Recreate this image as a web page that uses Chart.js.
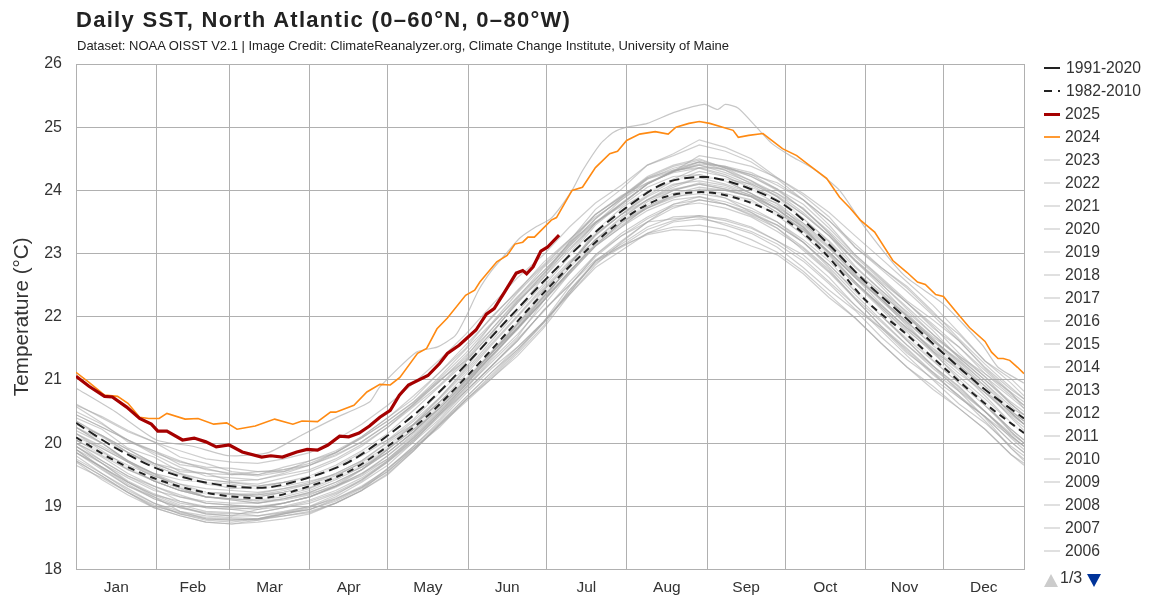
<!DOCTYPE html>
<html>
<head>
<meta charset="utf-8">
<title>Daily SST, North Atlantic</title>
<script src="https://cdn.jsdelivr.net/npm/chart.js@4"></script>
<style>
  html, body { margin: 0; padding: 0; background: #fff; }
  #wrap { position: relative; width: 1150px; height: 610px; font-family: "Liberation Sans", Arial, sans-serif; color: #333; overflow: hidden; }
  canvas { position: absolute; left: 0; top: 0; }
  #title { position: absolute; left: 76px; top: 7px; font-size: 22px; font-weight: bold; letter-spacing: 1.29px; color: #222; white-space: nowrap; }
  #sub { position: absolute; left: 77px; top: 38px; font-size: 13px; color: #222; white-space: nowrap; }
  .row { position: absolute; left: 1044px; height: 20px; line-height: 20px; font-size: 15.7px; white-space: nowrap; }
  .row i { position: absolute; left: 0; top: 9px; width: 16px; height: 2px; }
  .row span { position: absolute; left: 21px; top: 0; }
  #up { position: absolute; left: 1044px; top: 574px; border-left: 7px solid transparent; border-right: 7px solid transparent; border-bottom: 13px solid #ccc; }
  #down { position: absolute; left: 1087px; top: 574px; border-left: 7px solid transparent; border-right: 7px solid transparent; border-top: 13px solid #003399; }
  #page { position: absolute; left: 1060px; top: 569px; font-size: 16px; }
</style>
</head>
<body>
<div id="wrap">
  <canvas id="chart" width="1150" height="610"></canvas>
  <div id="title">Daily SST, North Atlantic (0–60°N, 0–80°W)</div>
  <div id="sub">Dataset: NOAA OISST V2.1 | Image Credit: ClimateReanalyzer.org, Climate Change Institute, University of Maine</div>
  <div id="legend"></div>
  <div id="up"></div><div id="page">1/3</div><div id="down"></div>
</div>
<script>
const months = ['Jan','Feb','Mar','Apr','May','Jun','Jul','Aug','Sep','Oct','Nov','Dec'];
const monthStarts = [0,31,59,90,120,151,181,212,243,273,304,334,365];
const monthMids = [15.5,45,74.5,105,135.5,166,196.5,227.5,258,288.5,319,349.5];
const legendLabels = ['1991-2020','1982-2010','2025','2024','2023','2022','2021','2020','2019','2018','2017','2016','2015','2014','2013','2012','2011','2010','2009','2008','2007','2006'];

// day of year for the two climatologies
const climDays = [0,15,31,45,59,74,90,105,120,135,151,166,181,196,212,227,243,258,273,288,304,319,334,349,365];
const clim9120 = [20.32,19.93,19.60,19.42,19.32,19.30,19.46,19.70,20.12,20.62,21.28,21.95,22.60,23.20,23.73,24.12,24.21,24.05,23.76,23.22,22.55,22.00,21.42,20.88,20.39];
const clim8210 = [20.09,19.72,19.43,19.26,19.16,19.14,19.32,19.55,19.95,20.42,21.08,21.75,22.42,23.03,23.58,23.90,23.97,23.83,23.54,23.02,22.26,21.75,21.20,20.66,20.16];

const days2025 = [0,5,11,14,19.5,24.5,29,31.5,35,41,45.5,50,54,59,64,71.5,75,79.5,85,89,93,97,101.5,105,109,113,117,121,124.5,128,135.5,140,143,147.5,154,158,161,165,169.5,172,173.5,176,179,181.5,186];
const y2025 = [21.06,20.90,20.74,20.73,20.57,20.39,20.30,20.19,20.19,20.05,20.08,20.02,19.94,19.97,19.86,19.78,19.80,19.78,19.86,19.90,19.89,19.97,20.11,20.10,20.16,20.27,20.41,20.52,20.76,20.92,21.07,21.26,21.42,21.55,21.79,22.04,22.13,22.39,22.69,22.73,22.68,22.79,23.04,23.10,23.29];

const days2024 = [0,5,11,16,20,24.5,28,32,35,42,47,53,58,62,69,76.5,83.5,87,93,98,100,107,112,117,121,124.7,131.5,135,139,143,150,153.5,155.5,162,166,169,172,174,176.5,183,185,191,195,200,205.5,208.5,212,217,223,228,231,236,240,244,249,253,255,259,264.5,267,272,277.5,282.5,289,294,298,302,307.5,314.5,320,324,327,331,334,339,344,350,352.5,355,357,359.5,362.5,365];
const y2024 = [21.12,20.96,20.76,20.74,20.63,20.41,20.39,20.39,20.47,20.38,20.39,20.30,20.32,20.22,20.27,20.38,20.30,20.35,20.34,20.49,20.49,20.60,20.81,20.93,20.92,21.04,21.42,21.50,21.81,21.98,22.34,22.42,22.55,22.87,22.97,23.15,23.18,23.26,23.26,23.53,23.57,24.00,24.05,24.36,24.58,24.62,24.79,24.89,24.93,24.89,25.00,25.06,25.09,25.06,25.00,24.95,24.84,24.87,24.90,24.82,24.66,24.55,24.39,24.19,23.89,23.72,23.53,23.34,22.89,22.70,22.55,22.51,22.35,22.32,22.07,21.83,21.61,21.44,21.34,21.34,21.31,21.20,21.10];

const days2023 = [0,15,31,45,59,74,87,100,113,117,131,139,146,150,155,160,166,171,177,183,191,195,202,207,212,220,230,242,247,250,255,262,268,275,284,294,304,319,334,349,355,365];
const y2023 = [20.87,20.50,20.05,19.95,19.80,19.85,20.13,20.40,20.65,20.89,21.44,21.52,21.70,21.99,22.42,22.73,23.02,23.25,23.42,23.56,24.00,24.31,24.74,24.92,25.00,25.06,25.23,25.36,25.28,25.36,25.30,25.00,24.74,24.55,24.34,24.00,23.40,22.65,22.20,21.55,21.20,20.95];

// grey years, read every ten days
const days = [0,10,20,30,40,50,60,70,80,90,100,110,120,130,140,150,160,170,180,190,200,210,220,230,240,250,260,270,280,290,300,310,320,330,340,350,360,365];
const y2022 = [20.58,20.32,20.02,19.88,19.66,19.60,19.50,19.55,19.55,19.72,19.88,20.10,20.40,20.70,21.12,21.50,22.00,22.40,22.86,23.22,23.62,23.90,24.20,24.32,24.45,24.36,24.25,24.02,23.78,23.40,22.98,22.60,22.22,21.82,21.52,21.10,20.80,20.65];
const y2021 = [20.40,20.22,19.92,19.78,19.55,19.52,19.40,19.42,19.50,19.58,19.75,19.98,20.25,20.62,20.98,21.35,21.88,22.30,22.78,23.15,23.55,23.88,24.18,24.30,24.55,24.48,24.38,24.20,23.92,23.58,23.10,22.78,22.45,22.05,21.72,21.30,21.02,20.82];
const y2020 = [20.62,20.40,20.18,20.02,19.78,19.68,19.55,19.50,19.62,19.72,19.85,20.08,20.35,20.65,21.05,21.48,21.90,22.38,22.80,23.20,23.70,24.02,24.40,24.55,24.72,24.62,24.45,24.18,23.85,23.45,22.98,22.62,22.25,21.95,21.62,21.18,20.80,20.55];
const y2019 = [20.35,20.10,19.85,19.65,19.48,19.38,19.28,19.32,19.38,19.45,19.62,19.85,20.05,20.38,20.80,21.20,21.68,22.12,22.62,23.12,23.55,23.88,24.20,24.38,24.48,24.36,24.25,24.12,23.85,23.52,23.15,22.78,22.48,22.08,21.65,21.25,20.88,20.70];
const y2018 = [20.15,19.95,19.72,19.52,19.42,19.38,19.35,19.28,19.32,19.40,19.50,19.68,19.95,20.22,20.55,20.95,21.38,21.82,22.25,22.72,23.12,23.50,23.75,23.92,24.02,24.00,23.90,23.72,23.48,23.15,22.72,22.35,22.00,21.62,21.22,20.85,20.50,20.35];
const y2017 = [20.45,20.25,20.05,19.85,19.70,19.62,19.60,19.55,19.58,19.65,19.82,20.02,20.30,20.62,21.02,21.42,21.88,22.32,22.72,23.12,23.50,23.78,24.10,24.30,24.40,24.28,24.12,23.95,23.72,23.32,22.90,22.52,22.15,21.78,21.35,21.00,20.62,20.45];
const y2016 = [20.50,20.30,20.05,19.82,19.62,19.48,19.45,19.42,19.52,19.65,19.80,20.02,20.30,20.60,20.98,21.38,21.80,22.25,22.62,23.05,23.48,23.78,24.10,24.32,24.36,24.25,24.08,23.85,23.55,23.20,22.78,22.42,22.08,21.72,21.35,21.00,20.65,20.50];
const y2015 = [20.20,20.00,19.72,19.50,19.30,19.22,19.15,19.18,19.22,19.30,19.48,19.70,19.95,20.30,20.70,21.12,21.58,22.02,22.48,22.95,23.45,23.78,24.10,24.30,24.42,24.38,24.28,24.08,23.85,23.52,23.10,22.75,22.40,22.02,21.62,21.20,20.85,20.70];
const y2014 = [20.05,19.82,19.60,19.40,19.25,19.15,19.12,19.10,19.18,19.28,19.45,19.62,19.85,20.18,20.58,21.00,21.45,21.90,22.42,22.85,23.28,23.62,23.95,24.18,24.36,24.35,24.22,24.02,23.70,23.35,22.95,22.58,22.22,21.85,21.42,21.05,20.72,20.55];
const y2013 = [20.30,20.12,19.90,19.68,19.52,19.42,19.38,19.32,19.38,19.45,19.60,19.80,20.05,20.30,20.62,21.00,21.42,21.88,22.38,22.80,23.18,23.52,23.78,24.00,24.12,24.05,23.92,23.80,23.48,23.12,22.70,22.32,21.98,21.62,21.30,20.95,20.58,20.40];
const y2012 = [20.45,20.25,20.05,19.88,19.72,19.58,19.52,19.48,19.55,19.65,19.85,20.08,20.35,20.65,21.00,21.30,21.75,22.22,22.68,23.18,23.50,23.75,24.05,24.22,24.25,24.15,23.95,23.75,23.45,23.10,22.65,22.25,21.88,21.45,21.10,20.80,20.45,20.30];
const y2011 = [20.10,19.85,19.62,19.40,19.25,19.20,19.18,19.20,19.28,19.35,19.48,19.68,19.95,20.28,20.65,21.02,21.42,21.82,22.32,22.78,23.22,23.58,23.85,24.08,24.20,24.10,23.95,23.70,23.40,23.00,22.55,22.18,21.82,21.50,21.18,20.80,20.55,20.45];
const y2010 = [20.60,20.42,20.20,20.02,19.88,19.75,19.70,19.68,19.75,19.85,20.05,20.30,20.60,20.95,21.32,21.72,22.18,22.62,22.98,23.42,23.80,24.08,24.40,24.58,24.80,24.68,24.50,24.20,23.95,23.65,23.28,22.92,22.55,22.18,21.75,21.30,20.95,20.75];
const y2009 = [19.95,19.72,19.48,19.32,19.18,19.05,19.02,19.00,19.05,19.15,19.32,19.52,19.75,20.08,20.45,20.88,21.28,21.68,22.25,22.85,23.32,23.62,23.85,24.05,24.20,24.18,24.10,23.92,23.62,23.28,22.80,22.42,22.02,21.68,21.38,21.10,20.75,20.60];
const y2008 = [20.10,19.92,19.70,19.52,19.30,19.15,19.10,19.05,19.12,19.20,19.32,19.48,19.75,20.10,20.48,20.88,21.35,21.82,22.25,22.72,23.15,23.48,23.72,23.92,24.00,23.92,23.80,23.62,23.30,22.92,22.52,22.12,21.70,21.32,20.95,20.60,20.22,20.05];
const y2007 = [20.25,20.00,19.72,19.52,19.35,19.22,19.18,19.15,19.22,19.30,19.45,19.65,19.95,20.28,20.65,21.08,21.55,22.00,22.45,22.88,23.20,23.50,23.72,23.88,24.00,23.95,23.82,23.62,23.38,23.02,22.62,22.20,21.80,21.42,21.05,20.70,20.32,20.15];
const y2006 = [20.30,20.12,19.90,19.68,19.52,19.35,19.30,19.28,19.38,19.48,19.65,19.88,20.15,20.52,20.90,21.28,21.75,22.22,22.65,23.18,23.62,23.92,24.12,24.28,24.35,24.22,24.02,23.78,23.42,22.98,22.55,22.15,21.78,21.45,21.18,20.85,20.48,20.30];
const y2005 = [20.35,20.12,19.85,19.62,19.50,19.42,19.38,19.35,19.45,19.55,19.72,19.95,20.25,20.58,20.92,21.32,21.80,22.28,22.72,23.15,23.62,23.90,24.22,24.40,24.50,24.35,24.15,23.95,23.65,23.28,22.88,22.52,22.12,21.72,21.38,21.05,20.62,20.45];
const y2004 = [20.15,19.88,19.62,19.40,19.25,19.15,19.12,19.10,19.15,19.25,19.42,19.62,19.90,20.22,20.60,21.02,21.45,21.92,22.42,22.82,23.35,23.72,23.98,24.15,24.30,24.22,24.05,23.85,23.55,23.18,22.72,22.38,22.00,21.65,21.28,20.90,20.52,20.35];
const y2003 = [20.25,20.00,19.70,19.45,19.28,19.15,19.10,19.05,19.10,19.18,19.35,19.58,19.90,20.30,20.72,21.18,21.72,22.25,22.68,23.08,23.48,23.80,24.10,24.30,24.40,24.32,24.15,23.90,23.62,23.28,22.90,22.55,22.22,21.88,21.52,21.15,20.78,20.60];
const y2002 = [20.05,19.85,19.65,19.48,19.35,19.28,19.25,19.22,19.28,19.38,19.52,19.72,20.00,20.30,20.65,21.02,21.42,21.85,22.32,22.78,23.18,23.50,23.82,24.00,24.10,24.02,23.90,23.70,23.42,23.08,22.68,22.28,21.90,21.55,21.22,20.90,20.48,20.30];
const y2001 = [19.95,19.68,19.40,19.20,19.05,18.98,18.95,18.98,19.05,19.15,19.32,19.52,19.80,20.15,20.52,20.92,21.42,21.88,22.32,22.78,23.22,23.55,23.85,24.02,24.10,24.02,23.90,23.65,23.35,23.02,22.62,22.28,21.92,21.55,21.20,20.80,20.42,20.25];
const y2000 = [19.90,19.62,19.35,19.12,18.98,18.90,18.88,18.90,18.98,19.08,19.22,19.42,19.70,20.05,20.45,20.82,21.22,21.65,22.08,22.55,22.98,23.32,23.58,23.78,23.85,23.78,23.65,23.45,23.18,22.82,22.40,22.02,21.65,21.30,20.95,20.60,20.22,20.05];
const y1999 = [20.05,19.85,19.58,19.40,19.25,19.15,19.12,19.08,19.12,19.22,19.38,19.58,19.85,20.18,20.55,20.95,21.45,21.92,22.38,22.82,23.30,23.62,23.92,24.15,24.25,24.15,23.95,23.70,23.35,22.95,22.55,22.15,21.75,21.35,21.00,20.60,20.18,20.00];
const y1998 = [20.25,20.05,19.85,19.68,19.58,19.52,19.50,19.50,19.58,19.68,19.85,20.10,20.40,20.75,21.12,21.55,21.98,22.42,22.82,23.22,23.58,23.85,24.12,24.30,24.45,24.38,24.22,24.00,23.70,23.32,22.88,22.48,22.05,21.65,21.25,20.85,20.40,20.20];
const y1997 = [19.75,19.52,19.28,19.05,18.92,18.85,18.82,18.80,18.88,18.98,19.15,19.38,19.65,20.02,20.45,20.85,21.32,21.72,22.18,22.68,23.12,23.42,23.75,23.95,24.05,24.00,23.90,23.65,23.38,23.02,22.65,22.35,22.02,21.62,21.32,20.95,20.52,20.35];
const y1996 = [19.85,19.58,19.32,19.15,18.92,18.80,18.78,18.80,18.85,18.92,19.05,19.25,19.50,19.88,20.28,20.65,21.02,21.38,21.82,22.35,22.82,23.18,23.50,23.78,23.90,23.82,23.68,23.50,23.22,22.88,22.45,22.02,21.62,21.22,20.82,20.50,20.08,19.90];
const y1995 = [20.00,19.80,19.58,19.42,19.30,19.22,19.20,19.18,19.25,19.35,19.52,19.72,20.02,20.35,20.72,21.15,21.62,22.08,22.52,23.00,23.48,23.85,24.18,24.35,24.45,24.32,24.10,23.90,23.55,23.12,22.68,22.28,21.85,21.45,21.00,20.65,20.18,20.00];
const y1994 = [19.70,19.42,19.18,18.98,18.85,18.75,18.72,18.75,18.80,18.88,19.05,19.25,19.52,19.88,20.30,20.68,21.08,21.48,21.92,22.38,22.88,23.20,23.50,23.72,23.85,23.78,23.62,23.45,23.18,22.82,22.42,22.02,21.62,21.22,20.90,20.50,20.15,20.00];
const y1993 = [19.72,19.48,19.22,18.98,18.85,18.75,18.72,18.78,18.88,18.95,19.12,19.32,19.58,19.95,20.32,20.72,21.12,21.52,21.92,22.35,22.78,23.05,23.32,23.50,23.55,23.48,23.35,23.15,22.88,22.52,22.12,21.82,21.48,21.10,20.75,20.35,19.92,19.75];
const y1992 = [19.95,19.68,19.38,19.15,19.00,18.88,18.85,18.85,18.90,18.95,19.08,19.28,19.55,19.90,20.28,20.68,21.02,21.42,21.85,22.42,22.85,23.10,23.32,23.42,23.45,23.38,23.22,23.02,22.72,22.35,21.98,21.58,21.20,20.85,20.55,20.22,19.82,19.68];
const y1991 = [20.15,19.92,19.70,19.48,19.32,19.22,19.20,19.15,19.22,19.30,19.45,19.65,19.92,20.25,20.60,20.98,21.38,21.80,22.28,22.72,23.15,23.45,23.72,23.90,23.95,23.88,23.72,23.50,23.18,22.78,22.35,21.95,21.55,21.18,20.85,20.50,20.12,19.95];
const y1990 = [19.90,19.68,19.45,19.25,19.15,19.08,19.05,19.05,19.12,19.22,19.38,19.58,19.85,20.18,20.55,20.98,21.45,21.90,22.35,22.82,23.30,23.62,23.90,24.10,24.15,24.08,23.92,23.70,23.42,23.02,22.62,22.28,21.92,21.58,21.20,20.85,20.48,20.30];
const y1989 = [19.85,19.62,19.38,19.18,19.08,19.00,18.98,18.95,19.00,19.10,19.25,19.45,19.72,20.05,20.42,20.82,21.22,21.62,22.10,22.50,22.95,23.28,23.55,23.75,23.80,23.72,23.58,23.35,23.08,22.72,22.30,21.92,21.55,21.22,20.88,20.50,20.12,19.95];
const y1988 = [20.00,19.78,19.52,19.32,19.15,19.05,19.02,18.98,19.05,19.15,19.30,19.50,19.80,20.12,20.50,20.92,21.38,21.80,22.25,22.68,23.12,23.42,23.68,23.85,23.90,23.78,23.60,23.40,23.05,22.70,22.28,21.85,21.45,21.08,20.75,20.42,20.02,19.85];
const y1987 = [19.65,19.45,19.22,19.02,18.88,18.80,18.78,18.80,18.90,19.00,19.18,19.42,19.72,20.08,20.48,20.92,21.38,21.82,22.30,22.78,23.22,23.52,23.78,23.95,24.00,23.95,23.85,23.60,23.30,22.92,22.52,22.18,21.82,21.48,21.15,20.75,20.32,20.15];
const y1986 = [19.72,19.48,19.22,19.00,18.90,18.82,18.80,18.78,18.85,18.90,19.05,19.25,19.60,19.92,20.25,20.68,21.05,21.45,21.90,22.42,22.88,23.12,23.38,23.52,23.60,23.52,23.40,23.20,22.98,22.62,22.18,21.82,21.42,21.12,20.82,20.40,19.92,19.72];
const y1985 = [19.80,19.52,19.25,19.05,18.88,18.78,18.75,18.80,18.88,18.95,19.10,19.30,19.55,19.92,20.30,20.72,21.12,21.48,21.90,22.38,22.88,23.12,23.30,23.38,23.36,23.28,23.12,22.98,22.68,22.30,21.98,21.58,21.20,20.90,20.55,20.22,19.82,19.65];
const y1984 = [20.00,19.72,19.48,19.28,19.08,18.98,18.95,18.90,18.98,19.05,19.20,19.40,19.70,20.02,20.38,20.82,21.22,21.62,22.10,22.50,22.90,23.15,23.42,23.58,23.60,23.55,23.42,23.20,22.92,22.55,22.18,21.78,21.38,21.00,20.62,20.32,19.95,19.80];
const y1983 = [19.90,19.60,19.32,19.12,18.98,18.88,18.85,18.95,19.05,19.15,19.32,19.58,19.90,20.22,20.62,21.02,21.45,21.82,22.25,22.70,23.18,23.50,23.78,23.95,24.00,23.88,23.65,23.40,23.10,22.75,22.28,21.85,21.50,21.12,20.72,20.42,20.10,19.95];
const y1982 = [19.85,19.62,19.38,19.18,19.02,18.92,18.90,18.85,18.92,19.00,19.12,19.30,19.60,19.95,20.35,20.78,21.18,21.52,21.92,22.48,22.98,23.28,23.50,23.55,23.58,23.45,23.32,23.10,22.78,22.42,22.10,21.68,21.32,21.02,20.72,20.42,20.02,19.85];

const greyYears = [y2022,y2021,y2020,y2019,y2018,y2017,y2016,y2015,y2014,y2013,y2012,y2011,y2010,y2009,y2008,y2007,y2006,y2005,y2004,y2003,y2002,y2001,y2000,y1999,y1998,y1997,y1996,y1995,y1994,y1993,y1992,y1991,y1990,y1989,y1988,y1987,y1986,y1985,y1984,y1983,y1982];

const toPts = (xs, ys) => ys.map((v, i) => ({ x: xs[i], y: v }));
const line = (data, color, width, dash, tension) => ({ data, borderColor: color, borderWidth: width, borderDash: dash || [], pointRadius: 0, tension: tension || 0, fill: false });

// first dataset ends up on top in chart.js
const datasets = [
  line(toPts(days2025, y2025), '#a50000', 3.2),
  line(toPts(climDays, clim9120), '#222', 2, [10, 5], 0.3),
  line(toPts(climDays, clim8210), '#222', 2, [7, 5], 0.3),
  line(toPts(climDays, clim9120), 'rgba(255,255,255,0.7)', 2.5, null, 0.3),
  line(toPts(climDays, clim8210), 'rgba(255,255,255,0.7)', 2.5, null, 0.3),
  line(toPts(days2024, y2024), '#ff8a12', 1.6),
  line(toPts(days2023, y2023), 'rgba(175,175,175,0.7)', 1.2, null, 0.2),
];
greyYears.forEach(y => datasets.push(line(toPts(days, y), 'rgba(165,165,165,0.55)', 1.2)));

new Chart(document.getElementById('chart'), {
  type: 'line',
  data: { datasets },
  options: {
    responsive: false,
    animation: false,
    devicePixelRatio: 1,
    layout: { padding: { top: 64, right: 126, left: 0, bottom: 0 } },
    plugins: { legend: { display: false }, tooltip: { enabled: false }, title: { display: false } },
    scales: {
      x: {
        type: 'linear', min: 0, max: 365,
        afterBuildTicks: s => { s.ticks = monthStarts.concat(monthMids).sort((a, b) => a - b).map(v => ({ value: v })); },
        afterFit: s => { s.height = 40.5; },
        border: { display: false },
        grid: { color: c => (c.tick && monthStarts.includes(c.tick.value)) ? '#b0b0b0' : 'rgba(0,0,0,0)', drawTicks: false, lineWidth: 1 },
        ticks: {
          autoSkip: false, maxRotation: 0, padding: 9, color: '#333',
          font: { family: '"Liberation Sans"', size: 15.5 },
          callback: v => { const i = monthMids.indexOf(v); return i >= 0 ? months[i] : ''; }
        }
      },
      y: {
        min: 18, max: 26,
        afterFit: s => { s.width = 76; },
        border: { display: false },
        grid: { color: '#b0b0b0', drawTicks: false, lineWidth: 1 },
        ticks: { stepSize: 1, padding: 14, color: '#333', font: { family: '"Liberation Sans"', size: 16 } },
        title: { display: true, text: 'Temperature (°C)', color: '#333', font: { family: '"Liberation Sans"', size: 20.7 }, padding: { top: 10, bottom: 0 } }
      }
    }
  }
});

// legend on the right, first page only like the original
const legend = document.getElementById('legend');
legendLabels.forEach((lab, i) => {
  const row = document.createElement('div');
  row.className = 'row';
  row.style.top = (58 + i * 22.98) + 'px';
  let bg = '#e0e0e0', h = 2;
  if (i === 0) bg = '#222';
  if (i === 1) bg = 'linear-gradient(90deg,#222 0 8px,transparent 8px 14px,#222 14px 16px)';
  if (lab === '2025') { bg = '#a50000'; h = 3; }
  if (lab === '2024') bg = '#ff9a33';
  const shift = i < 2 ? ' style="left:22px"' : '';
  row.innerHTML = '<i style="background:' + bg + ';height:' + h + 'px"></i><span' + shift + '>' + lab + '</span>';
  legend.appendChild(row);
});
</script>
</body>
</html>
